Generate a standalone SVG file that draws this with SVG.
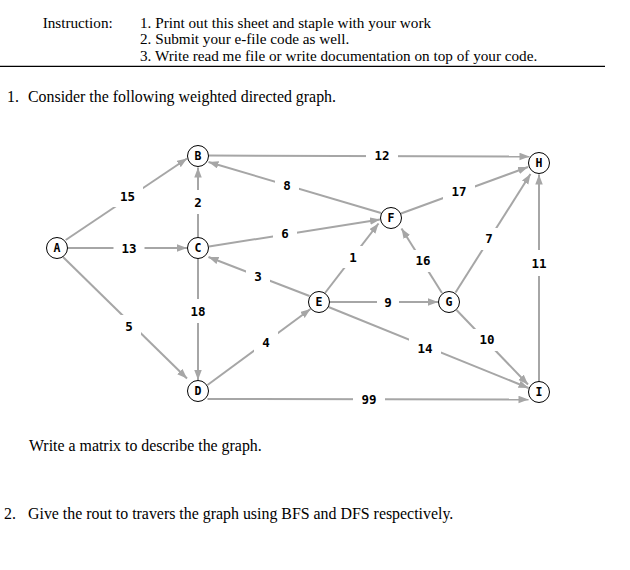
<svg xmlns="http://www.w3.org/2000/svg" width="630" height="570" viewBox="0 0 630 570">
<defs>
<marker id="arr" markerUnits="userSpaceOnUse" markerWidth="11" markerHeight="8" refX="10" refY="3.75" orient="auto">
<path d="M0,0 L10,3.75 L0,7.5 z" fill="#a6a6a6"/>
</marker>
</defs>
<style>
.doc{font-family:"Liberation Serif","Times New Roman",serif;font-size:15.2px;fill:#000}
.body{font-size:15.9px}
.e{stroke:#a6a6a6;stroke-width:2;fill:none;marker-end:url(#arr)}
.lb{fill:#fff}
.lt{font-family:"DejaVu Sans Mono","Liberation Mono",monospace;font-size:12.5px;font-weight:bold;fill:#000;text-anchor:middle}
.nc{fill:#fff;stroke:#000;stroke-width:1}
.nt{font-family:"DejaVu Sans Mono","Liberation Mono",monospace;font-size:11.5px;font-weight:bold;fill:#000;text-anchor:middle}
</style>
<rect width="630" height="570" fill="#fff"/>
<g id="header">
<text class="doc" x="42.7" y="28">Instruction:</text>
<text class="doc" x="140" y="28">1. Print out this sheet and staple with your work</text>
<text class="doc" x="140" y="44.3">2. Submit your e-file code as well.</text>
<text class="doc" x="140" y="60.6">3. Write read me file or write documentation on top of your code.</text>
<line x1="0" y1="66.3" x2="605" y2="66.3" stroke="#000" stroke-width="1.3"/>
<text class="doc body" x="7" y="102">1.</text>
<text class="doc body" x="28" y="102">Consider the following weighted directed graph.</text>
<text class="doc body" x="29" y="450.5">Write a matrix to describe the graph.</text>
<text class="doc body" x="4" y="519">2.</text>
<text class="doc body" x="28" y="519">Give the rout to travers the graph using BFS and DFS respectively.</text>
</g>
<g id="connectors">
<line class="e" x1="65.7" y1="240" x2="187" y2="158.5"/>
<line class="e" x1="68" y1="248" x2="187" y2="248"/>
<line class="e" x1="63" y1="257" x2="187" y2="378.5"/>
<line class="e" x1="198" y1="237.5" x2="198" y2="167.5"/>
<line class="e" x1="198" y1="258.5" x2="198" y2="380"/>
<line class="e" x1="208.5" y1="155.5" x2="529.5" y2="156.5"/>
<line class="e" x1="381" y1="213" x2="208.5" y2="162"/>
<line class="e" x1="209" y1="246.5" x2="380" y2="219.5"/>
<line class="e" x1="309.5" y1="296" x2="208.5" y2="257"/>
<line class="e" x1="325" y1="293" x2="378.5" y2="223.5"/>
<line class="e" x1="442" y1="293" x2="401.5" y2="228.5"/>
<line class="e" x1="401" y1="213.5" x2="528" y2="167"/>
<line class="e" x1="455.5" y1="292.5" x2="530.5" y2="174"/>
<line class="e" x1="539" y1="381.5" x2="539" y2="174.5"/>
<line class="e" x1="329.5" y1="302" x2="438" y2="302"/>
<line class="e" x1="207.5" y1="385" x2="310.5" y2="309"/>
<line class="e" x1="328.5" y1="307" x2="528.5" y2="388"/>
<line class="e" x1="456.5" y1="310" x2="528" y2="384.5"/>
<line class="e" x1="207.5" y1="399" x2="528.5" y2="399.5"/>
<g id="labels">
<rect class="lb" x="112" y="185" width="31" height="22"/><text class="lt" x="127.5" y="200.5">15</text>
<rect class="lb" x="113.5" y="237" width="31" height="22"/><text class="lt" x="129" y="252.5">13</text>
<rect class="lb" x="117" y="315" width="24" height="22"/><text class="lt" x="129" y="330.5">5</text>
<rect class="lb" x="186" y="190" width="24" height="24"/><text class="lt" x="198" y="206.5">2</text>
<rect class="lb" x="182.5" y="299" width="31" height="24"/><text class="lt" x="198" y="315.5">18</text>
<rect class="lb" x="366" y="145" width="32" height="22"/><text class="lt" x="382" y="160">12</text>
<rect class="lb" x="275" y="175" width="24" height="22"/><text class="lt" x="287" y="190">8</text>
<rect class="lb" x="273" y="223" width="24" height="22"/><text class="lt" x="285" y="238">6</text>
<rect class="lb" x="246" y="265" width="24" height="22"/><text class="lt" x="258" y="280.5">3</text>
<rect class="lb" x="341" y="246" width="24" height="22"/><text class="lt" x="353" y="261.5">1</text>
<rect class="lb" x="407" y="250" width="32" height="22"/><text class="lt" x="423" y="265">16</text>
<rect class="lb" x="443" y="180" width="32" height="22"/><text class="lt" x="459" y="195.5">17</text>
<rect class="lb" x="477" y="228" width="24" height="22"/><text class="lt" x="489" y="243">7</text>
<rect class="lb" x="523" y="250" width="32" height="26"/><text class="lt" x="539" y="267.5">11</text>
<rect class="lb" x="377" y="291" width="22" height="22"/><text class="lt" x="388" y="306.5">9</text>
<rect class="lb" x="254" y="331" width="24" height="22"/><text class="lt" x="266" y="346.5">4</text>
<rect class="lb" x="409" y="338" width="32" height="22"/><text class="lt" x="425" y="353">14</text>
<rect class="lb" x="471" y="329" width="32" height="22"/><text class="lt" x="487" y="344">10</text>
<rect class="lb" x="353" y="388" width="32" height="22"/><text class="lt" x="369" y="403.5">99</text>
</g>
</g>
<g id="node-A"><circle class="nc" cx="57" cy="248" r="10.5"/><text class="nt" x="57" y="252">A</text></g>
<g id="node-B"><circle class="nc" cx="198" cy="156" r="10.5"/><text class="nt" x="198" y="160">B</text></g>
<g id="node-C"><circle class="nc" cx="198" cy="248" r="10.5"/><text class="nt" x="198" y="252">C</text></g>
<g id="node-D"><circle class="nc" cx="198" cy="391" r="10.5"/><text class="nt" x="198" y="395">D</text></g>
<g id="node-E"><circle class="nc" cx="319" cy="302" r="10.5"/><text class="nt" x="319" y="306">E</text></g>
<g id="node-F"><circle class="nc" cx="391" cy="218" r="10.5"/><text class="nt" x="391" y="222">F</text></g>
<g id="node-G"><circle class="nc" cx="449" cy="302" r="10.5"/><text class="nt" x="449" y="306">G</text></g>
<g id="node-H"><circle class="nc" cx="539" cy="163" r="10.5"/><text class="nt" x="539" y="167">H</text></g>
<g id="node-I"><circle class="nc" cx="539" cy="392" r="10.5"/><text class="nt" x="539" y="396">I</text></g>
</svg>
